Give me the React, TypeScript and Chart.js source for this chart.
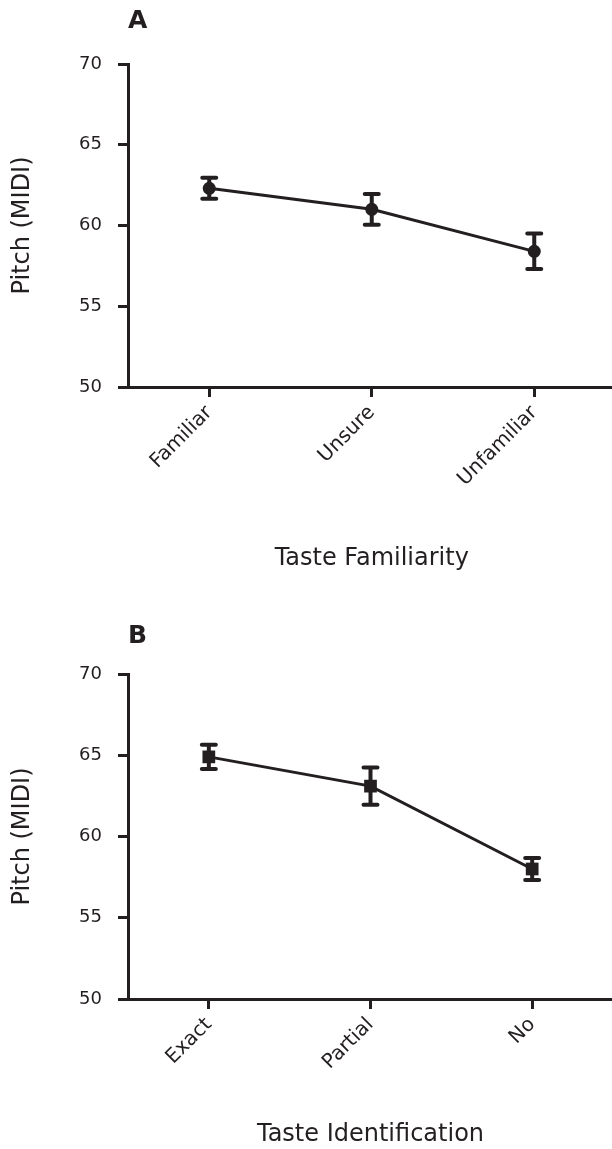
import { useEffect, useRef } from "react";
import { Chart, registerables } from "chart.js";

Chart.register(...registerables);

// Panel A: pitch by taste familiarity (mean ± error)
const familiarityLabels = ["Familiar", "Unsure", "Unfamiliar"];
const familiarityPitch = [62.3, 61.0, 58.4];
const familiarityError = [0.65, 0.95, 1.1];

// Panel B: pitch by taste identification (mean ± error)
const identificationLabels = ["Exact", "Partial", "No"];
const identificationPitch = [64.9, 63.1, 58.0];
const identificationError = [0.75, 1.15, 0.68];

const pitchTicks = [50, 55, 60, 65, 70];

const INK = "#231f20";
const FONT = "'DejaVu Sans', Verdana, sans-serif";

type PanelProps = {
  letter: string;
  labels: string[];
  values: number[];
  errors: number[];
  xTitle: string;
  pointStyle: "circle" | "rect";
  pointRadius: number;
  width: number;
  height: number;
  top: number;
  areaLeft: number;
  areaBottom: number;
  letterY: number;
};

function Panel(p: PanelProps) {
  const ref = useRef<HTMLCanvasElement | null>(null);

  useEffect(() => {
    if (!ref.current) return;

    const errorBars = {
      id: "errorBars",
      afterDatasetsDraw(chart: Chart) {
        const { ctx } = chart;
        const xs = chart.scales.x;
        const ys = chart.scales.y;
        ctx.save();
        ctx.strokeStyle = INK;
        ctx.lineWidth = 4;
        ctx.lineCap = "round";
        p.values.forEach((v, i) => {
          const px = xs.getPixelForValue(i);
          const hi = ys.getPixelForValue(v + p.errors[i]);
          const lo = ys.getPixelForValue(v - p.errors[i]);
          ctx.beginPath();
          ctx.moveTo(px, hi);
          ctx.lineTo(px, lo);
          ctx.moveTo(px - 7, hi);
          ctx.lineTo(px + 7, hi);
          ctx.moveTo(px - 7, lo);
          ctx.lineTo(px + 7, lo);
          ctx.stroke();
        });
        ctx.restore();
      },
    };

    const panelLetter = {
      id: "panelLetter",
      afterDraw(chart: Chart) {
        const { ctx, chartArea } = chart;
        ctx.save();
        ctx.fillStyle = INK;
        ctx.font = `bold 25px ${FONT}`;
        ctx.textAlign = "left";
        ctx.textBaseline = "middle";
        ctx.fillText(p.letter, chartArea.left, p.letterY);
        ctx.restore();
      },
    };

    const chart = new Chart(ref.current, {
      type: "line",
      data: {
        labels: p.labels,
        datasets: [
          {
            data: p.values,
            borderColor: INK,
            borderWidth: 3,
            backgroundColor: INK,
            pointBackgroundColor: INK,
            pointBorderColor: INK,
            pointBorderWidth: 0,
            pointStyle: p.pointStyle,
            pointRadius: p.pointRadius,
            tension: 0,
            fill: false,
          },
        ],
      },
      options: {
        responsive: false,
        animation: false,
        layout: { padding: { left: 0, right: 0, top: 64, bottom: 0 } },
        plugins: {
          legend: { display: false },
          tooltip: { enabled: false },
        },
        scales: {
          x: {
            type: "category",
            offset: true,
            border: { color: INK, width: 3 },
            grid: {
              drawOnChartArea: false,
              color: INK,
              tickLength: 10,
              tickWidth: 3,
            },
            ticks: {
              color: INK,
              font: { family: FONT, size: 20 },
              minRotation: 45,
              maxRotation: 45,
              padding: 4,
            },
            title: {
              display: true,
              text: p.xTitle,
              color: INK,
              font: { family: FONT, size: 24 },
              padding: { top: 4, bottom: 4 },
            },
            afterFit: (s: any) => {
              s.height = p.height - p.areaBottom;
            },
          },
          y: {
            min: 50,
            max: 70,
            border: { color: INK, width: 3 },
            grid: {
              drawOnChartArea: false,
              color: INK,
              tickLength: 10,
              tickWidth: 3,
            },
            afterBuildTicks: (s: any) => {
              s.ticks = pitchTicks.map((v) => ({ value: v }));
            },
            ticks: {
              color: INK,
              font: { family: FONT, size: 18 },
              padding: 16,
            },
            title: {
              display: true,
              text: "Pitch (MIDI)",
              color: INK,
              font: { family: FONT, size: 24 },
              padding: { top: 8, bottom: 4 },
            },
            afterFit: (s: any) => {
              s.width = p.areaLeft;
            },
          },
        },
      },
      plugins: [errorBars, panelLetter],
    });

    return () => chart.destroy();
  }, []);

  return (
    <canvas
      ref={ref}
      width={p.width}
      height={p.height}
      style={{ position: "absolute", left: 0, top: p.top, display: "block" }}
    />
  );
}

export default function App() {
  // The plot frames run past the right page edge, so the canvases are a bit
  // wider than the clipped container.
  return (
    <div
      style={{
        position: "absolute",
        left: 0,
        top: 0,
        width: 612,
        height: 1149,
        background: "#ffffff",
        overflow: "hidden",
      }}
    >
      <Panel
        letter="A"
        labels={familiarityLabels}
        values={familiarityPitch}
        errors={familiarityError}
        xTitle="Taste Familiarity"
        pointStyle="circle"
        pointRadius={6.5}
        width={622}
        height={577}
        top={0}
        areaLeft={128}
        areaBottom={387}
        letterY={21}
      />
      <Panel
        letter="B"
        labels={identificationLabels}
        values={identificationPitch}
        errors={identificationError}
        xTitle="Taste Identification"
        pointStyle="rect"
        pointRadius={9}
        width={622}
        height={543}
        top={610}
        areaLeft={128}
        areaBottom={389}
        letterY={26}
      />
    </div>
  );
}
